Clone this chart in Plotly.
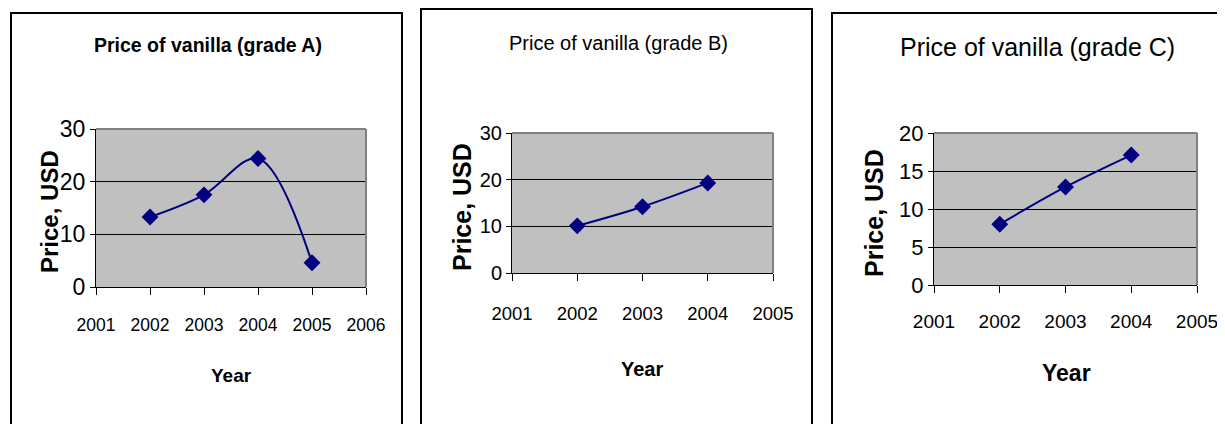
import plotly.graph_objects as go

# ---- data ----
years_a = [2002, 2003, 2004, 2005]
price_a = [13.3, 17.5, 24.4, 4.6]
years_b = [2002, 2003, 2004]
price_b = [10.1, 14.2, 19.3]
years_c = [2002, 2003, 2004]
price_c = [8.0, 12.9, 17.1]

titles = ["Price of vanilla (grade A)", "Price of vanilla (grade B)", "Price of vanilla (grade C)"]
xticks_a = [2001, 2002, 2003, 2004, 2005, 2006]
xticks_bc = [2001, 2002, 2003, 2004, 2005]
yticks_ab = [0, 10, 20, 30]
yticks_c = [0, 5, 10, 15, 20]
x_title = "Year"
y_title = "Price, USD"

W, H = 1225, 424
OFF = 8  # page body margin
FONT = "Liberation Sans, Arial, sans-serif"
NAVY = "#000080"


def px(x):
    return (x - OFF) / W


def py(y):
    return 1 - (y - OFF) / H


fig = go.Figure()

panels = [
    dict(x=years_a, y=price_a, xt=xticks_a, yt=yticks_ab, plot=(96, 366, 129, 287),
         border=(11, 402, 13), title=titles[0], title_pos=(208, 45), title_bold=True, title_size=19.5,
         year_pos=(231, 375), year_size=19, ytitle_pos=(49, 212), ytitle_size=24,
         xtick_size=17.5, ytick_size=23, standoff=15),
    dict(x=years_b, y=price_b, xt=xticks_bc, yt=yticks_ab, plot=(512, 773, 133, 273),
         border=(421, 812, 9), title=titles[1], title_pos=(618, 43), title_bold=False, title_size=20,
         year_pos=(642, 369), year_size=20, ytitle_pos=(462, 207), ytitle_size=25,
         xtick_size=18.5, ytick_size=20, standoff=17),
    dict(x=years_c, y=price_c, xt=xticks_bc, yt=yticks_c, plot=(934, 1197, 133, 285),
         border=(832, 1240, 13), title=titles[2], title_pos=(1037, 47), title_bold=False, title_size=25,
         year_pos=(1066, 373), year_size=23, ytitle_pos=(874, 213), ytitle_size=25,
         xtick_size=19, ytick_size=22, standoff=12),
]

layout = dict(
    template="none",
    width=W, height=H, margin=dict(l=0, r=0, t=0, b=0, autoexpand=False),
    paper_bgcolor="white", plot_bgcolor="#C0C0C0", showlegend=False,
)
shapes = []
annotations = []

for i, p in enumerate(panels, start=1):
    sfx = "" if i == 1 else str(i)
    xa, ya = "x" + sfx, "y" + sfx
    fig.add_trace(go.Scatter(
        x=p["x"], y=p["y"], xaxis=xa, yaxis=ya, mode="lines+markers",
        line=dict(color=NAVY, width=2, shape="spline", smoothing=1),
        marker=dict(symbol="diamond", size=13, color=NAVY, line=dict(width=0)),
        cliponaxis=False, hoverinfo="skip",
    ))
    l, r, t, b = p["plot"]
    layout["xaxis" + sfx] = dict(
        domain=[px(l), px(r)], anchor=ya, range=[p["xt"][0], p["xt"][-1]],
        tickmode="array", tickvals=p["xt"], ticktext=[str(v) for v in p["xt"]],
        ticks="outside", ticklen=7, tickcolor="black", tickwidth=1,
        showline=True, linecolor="black", linewidth=1, showgrid=False, zeroline=False,
        tickfont=dict(family=FONT, size=p["xtick_size"], color="black"),
        ticklabelstandoff=p["standoff"], fixedrange=True, automargin=False,
    )
    layout["yaxis" + sfx] = dict(
        domain=[py(b), py(t)], anchor=xa, range=[p["yt"][0], p["yt"][-1]],
        tickmode="array", tickvals=p["yt"], ticktext=[str(v) for v in p["yt"]],
        ticks="outside", ticklen=5, tickcolor="black", tickwidth=1,
        showline=True, linecolor="black", linewidth=1,
        showgrid=True, gridcolor="black", gridwidth=1, zeroline=False,
        tickfont=dict(family=FONT, size=p["ytick_size"], color="black"),
        ticklabelstandoff=0, fixedrange=True, automargin=False,
    )
    # grey plot-area border (top and right)
    shapes.append(dict(type="line", xref=xa + " domain", yref=ya + " domain",
                       x0=0, x1=1, y0=1, y1=1, line=dict(color="#808080", width=2)))
    shapes.append(dict(type="line", xref=xa + " domain", yref=ya + " domain",
                       x0=1, x1=1, y0=0, y1=1, line=dict(color="#808080", width=2)))
    # panel border
    bl, br, bt = p["border"]
    shapes.append(dict(type="rect", xref="paper", yref="paper",
                       x0=px(bl), x1=px(br), y0=py(bt), y1=py(450),
                       line=dict(color="black", width=2)))
    # titles
    tx, ty = p["title_pos"]
    annotations.append(dict(
        text=("<b>%s</b>" % p["title"]) if p["title_bold"] else p["title"],
        x=px(tx), y=py(ty), xref="paper", yref="paper", showarrow=False,
        xanchor="center", yanchor="middle",
        font=dict(family=FONT, size=p["title_size"], color="black")))
    yx, yy = p["year_pos"]
    annotations.append(dict(
        text="<b>%s</b>" % x_title, x=px(yx), y=py(yy), xref="paper", yref="paper",
        showarrow=False, xanchor="center", yanchor="middle",
        font=dict(family=FONT, size=p["year_size"], color="black")))
    vx, vy = p["ytitle_pos"]
    annotations.append(dict(
        text="<b>%s</b>" % y_title, x=px(vx), y=py(vy), xref="paper", yref="paper",
        showarrow=False, xanchor="center", yanchor="middle", textangle=-90,
        font=dict(family=FONT, size=p["ytitle_size"], color="black")))

layout["shapes"] = shapes
layout["annotations"] = annotations
fig.update_layout(**layout)
fig.write_html("out.html")
